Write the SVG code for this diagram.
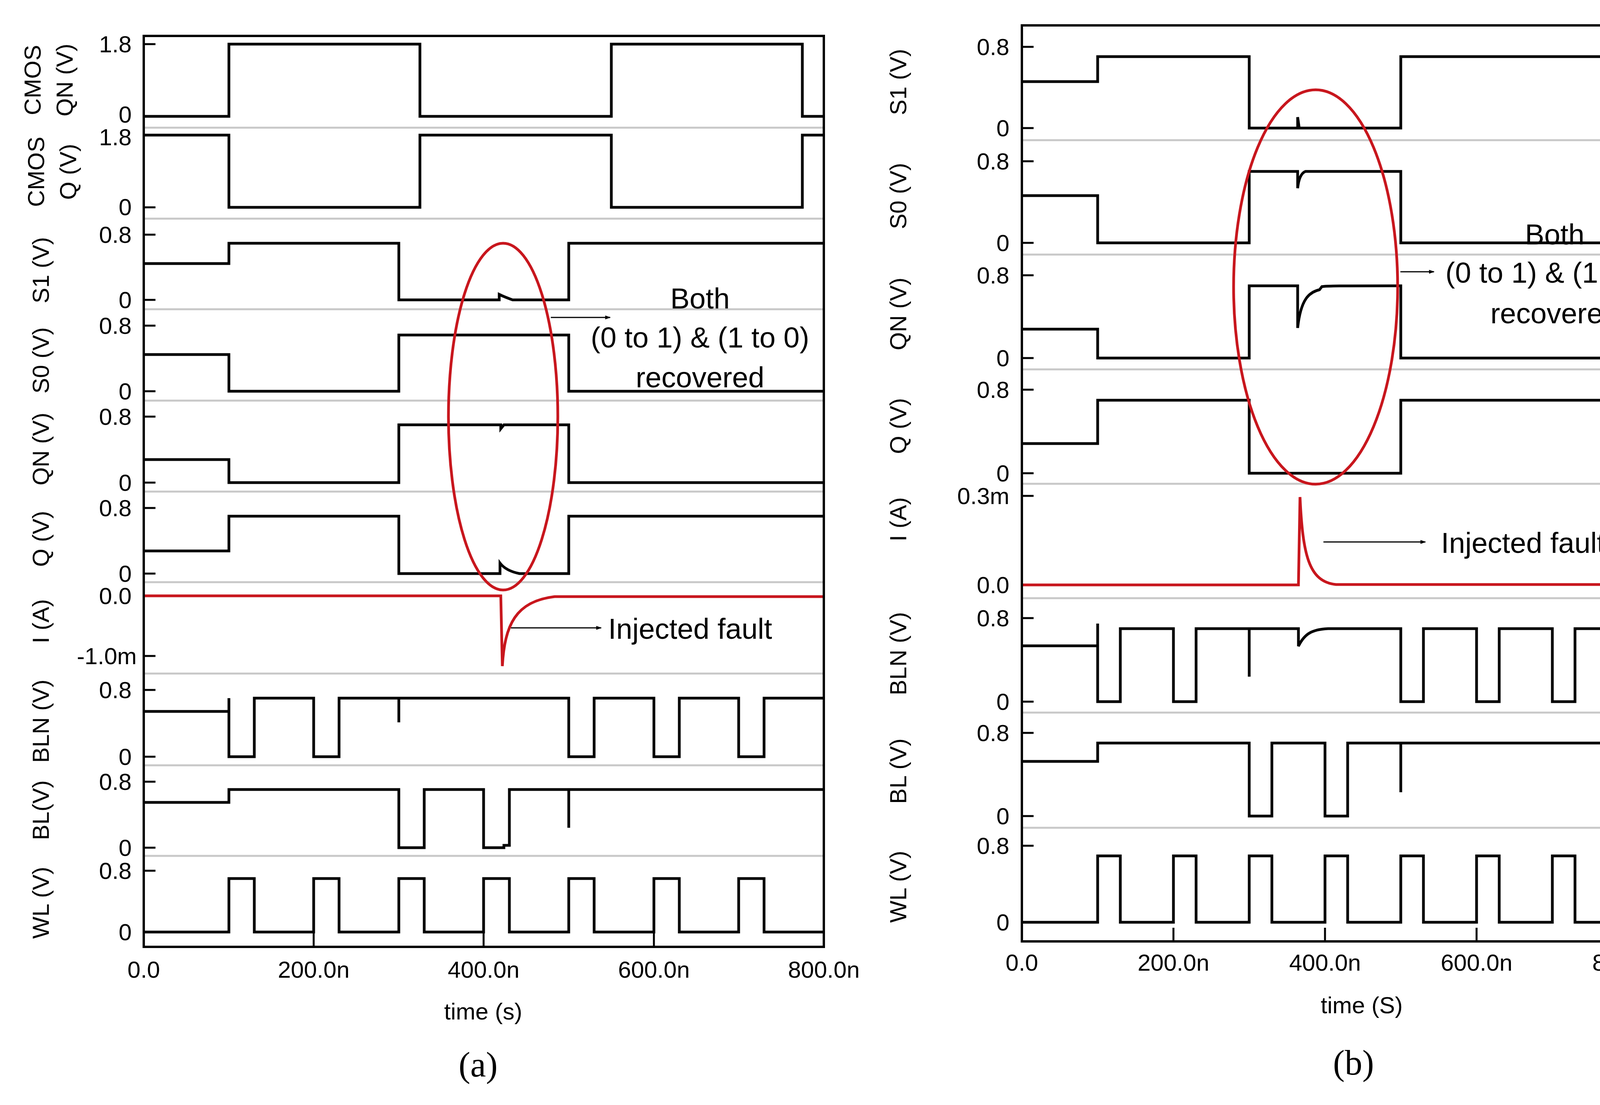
<svg xmlns="http://www.w3.org/2000/svg" width="4428" height="2830" viewBox="0 0 4428 2830">
<style>
text{font-family:"Liberation Sans",Arial,sans-serif;fill:#000}
.tk{font-size:60px;text-anchor:end}
.xt{font-size:60px;text-anchor:middle}
.ti{font-size:60px;text-anchor:middle}
.an{font-size:74px;text-anchor:middle}
.cap{font-family:"Liberation Serif",serif;font-size:90px;text-anchor:middle}
.sig{fill:none;stroke:#000;stroke-width:7;stroke-linejoin:miter}
.red{fill:none;stroke:#c8161d;stroke-width:7}
.frm{fill:none;stroke:#000;stroke-width:6}
.sep{stroke:#c8c8c8;stroke-width:5}
.tck{stroke:#000;stroke-width:5}
.ell{fill:none;stroke:#c8161d;stroke-width:7}
.arr{stroke:#000;stroke-width:3;marker-end:url(#ah)}
</style>
<defs>
<marker id="ah" viewBox="0 0 10 10" refX="9" refY="5" markerWidth="14" markerHeight="10" markerUnits="userSpaceOnUse" orient="auto" preserveAspectRatio="none"><path d="M0,0 L10,5 L0,10 z" fill="#000"/></marker>
</defs>
<rect width="4428" height="2830" fill="#fff"/>

<g id="panel-a">
<g id="a-grid">
<line class="sep" x1="368" y1="327" x2="2109" y2="327"/>
<line class="sep" x1="368" y1="560" x2="2109" y2="560"/>
<line class="sep" x1="368" y1="792" x2="2109" y2="792"/>
<line class="sep" x1="368" y1="1026" x2="2109" y2="1026"/>
<line class="sep" x1="368" y1="1259" x2="2109" y2="1259"/>
<line class="sep" x1="368" y1="1491" x2="2109" y2="1491"/>
<line class="sep" x1="368" y1="1725" x2="2109" y2="1725"/>
<line class="sep" x1="368" y1="1960" x2="2109" y2="1960"/>
<line class="sep" x1="368" y1="2192" x2="2109" y2="2192"/>
</g>
<g id="a-ticks">
<path class="tck" d="M368 113h30M368 298h30M368 346h30M368 531h30M368 601h30M368 768h30M368 834h30M368 1002h30M368 1067h30M368 1236h30M368 1301h30M368 1469h30M368 1526h30M368 1680h30M368 1767h30M368 1938h30M368 2002h30M368 2171h30M368 2230h30M368 2387h30M803 2425v-35M1238 2425v-35M1674 2425v-35"/>
</g>
<g id="a-signals">
<path class="sig" d="M368 298H586V113H1075V298H1565V113H2054V298H2109"/>
<path class="sig" d="M368 346H586V531H1075V346H1565V531H2054V346H2109"/>
<path class="sig" d="M368 675H586V623H1021V768H1278V754Q1290 760 1312 768H1456V623H2109"/>
<path class="sig" d="M368 908H586V1002H1021V858H1456V1002H2109"/>
<path class="sig" d="M368 1177H586V1236H1021V1088H1282V1098L1290 1088H1456V1236H2109"/>
<path class="sig" d="M368 1411H586V1322H1021V1469H1280V1442Q1295 1462 1330 1469H1456V1322H2109"/>
<path class="red" d="M368 1526H1282L1286 1706C1292 1600 1320 1540 1420 1528H2109"/>
<path class="sig" d="M368 1822H586V1788V1938H651V1788H803V1938H868V1788H1021V1850V1788H1456V1938H1521V1788H1674V1938H1739V1788H1891V1938H1956V1788H2109"/>
<path class="sig" d="M368 2055H586V2022H1021V2171H1086V2022H1238V2171H1290V2165H1304V2022H1456V2120V2022H2109"/>
<path class="sig" d="M368 2387H586V2250H651V2387H803V2250H868V2387H1021V2250H1086V2387H1238V2250H1304V2387H1456V2250H1521V2387H1674V2250H1739V2387H1891V2250H1956V2387H2109"/>
</g>
<rect class="frm" x="368" y="92" width="1741" height="2333"/>
<g id="a-labels">
<text class="tk" x="337" y="134">1.8</text><text class="tk" x="337" y="314">0</text>
<text class="tk" x="337" y="372">1.8</text><text class="tk" x="337" y="551">0</text>
<text class="tk" x="337" y="622">0.8</text><text class="tk" x="337" y="789">0</text>
<text class="tk" x="337" y="855">0.8</text><text class="tk" x="337" y="1023">0</text>
<text class="tk" x="337" y="1088">0.8</text><text class="tk" x="337" y="1257">0</text>
<text class="tk" x="337" y="1322">0.8</text><text class="tk" x="337" y="1490">0</text>
<text class="tk" x="337" y="1547">0.0</text><text class="tk" x="350" y="1701">-1.0m</text>
<text class="tk" x="337" y="1788">0.8</text><text class="tk" x="337" y="1959">0</text>
<text class="tk" x="337" y="2023">0.8</text><text class="tk" x="337" y="2192">0</text>
<text class="tk" x="337" y="2251">0.8</text><text class="tk" x="337" y="2408">0</text>
<text class="xt" x="368" y="2504">0.0</text><text class="xt" x="803" y="2504">200.0n</text><text class="xt" x="1238" y="2504">400.0n</text><text class="xt" x="1674" y="2504">600.0n</text><text class="xt" x="2109" y="2504">800.0n</text>
<text class="xt" x="1237" y="2611">time (s)</text>
<text class="cap" x="1224" y="2757">(a)</text>
<text class="ti" transform="translate(104 205) rotate(-90)">CMOS</text>
<text class="ti" transform="translate(186 205) rotate(-90)">QN (V)</text>
<text class="ti" transform="translate(113 440) rotate(-90)">CMOS</text>
<text class="ti" transform="translate(195 440) rotate(-90)">Q (V)</text>
<text class="ti" transform="translate(125 692) rotate(-90)">S1 (V)</text>
<text class="ti" transform="translate(125 923) rotate(-90)">S0 (V)</text>
<text class="ti" transform="translate(125 1150) rotate(-90)">QN (V)</text>
<text class="ti" transform="translate(125 1380) rotate(-90)">Q (V)</text>
<text class="ti" transform="translate(125 1591) rotate(-90)">I (A)</text>
<text class="ti" transform="translate(125 1847) rotate(-90)">BLN (V)</text>
<text class="ti" transform="translate(125 2075) rotate(-90)">BL(V)</text>
<text class="ti" transform="translate(125 2312) rotate(-90)">WL (V)</text>
</g>
<g id="a-annotations">
<ellipse class="ell" cx="1288" cy="1067" rx="140" ry="444"/>
<line class="arr" x1="1410" y1="813" x2="1562" y2="813"/>
<text class="an" x="1792" y="790">Both</text>
<text class="an" x="1792" y="890">(0 to 1) &amp; (1 to 0)</text>
<text class="an" x="1792" y="992">recovered</text>
<line class="arr" x1="1308" y1="1608" x2="1539" y2="1608"/>
<text class="an" x="1557" y="1636" style="text-anchor:start">Injected fault</text>
</g>
</g>

<g id="panel-b">
<g id="b-grid">
<line class="sep" x1="2616" y1="359" x2="4358" y2="359"/>
<line class="sep" x1="2616" y1="652" x2="4358" y2="652"/>
<line class="sep" x1="2616" y1="946" x2="4358" y2="946"/>
<line class="sep" x1="2616" y1="1239" x2="4358" y2="1239"/>
<line class="sep" x1="2616" y1="1532" x2="4358" y2="1532"/>
<line class="sep" x1="2616" y1="1825" x2="4358" y2="1825"/>
<line class="sep" x1="2616" y1="2120" x2="4358" y2="2120"/>
</g>
<g id="b-ticks">
<path class="tck" d="M2616 120h30M2616 328h30M2616 413h30M2616 622h30M2616 705h30M2616 917h30M2616 998h30M2616 1212h30M2616 1270h30M2616 1498h30M2616 1583h30M2616 1797h30M2616 1877h30M2616 2090h30M2616 2166h30M2616 2362h30M3004 2411v-35M3392 2411v-35M3780 2411v-35M4168 2411v-35"/>
</g>
<g id="b-signals">
<path class="sig" d="M2616 209H2810V145H3198V328H3322V300L3326 328H3586V145H4168V328H4358"/>
<path class="sig" d="M2616 501H2810V622H3198V439H3322V482Q3326 445 3342 439H3586V622H4168V439H4358"/>
<path class="sig" d="M2616 843H2810V917H3198V732H3322V840C3330 765 3352 748 3378 742L3384 734C3400 732 3420 732 3586 732V917H4168V732H4358"/>
<path class="sig" d="M2616 1136H2810V1025H3198V1212H3586V1025H4168V1212H4358"/>
<path class="red" d="M2616 1498H3324L3328 1273C3335 1420 3350 1490 3420 1497H4358"/>
<path class="sig" d="M2616 1654H2810V1597V1797H2868V1610H3004V1797H3062V1610H3198V1733V1610H3324V1655C3340 1622 3360 1612 3400 1610H3586V1797H3644V1610H3780V1797H3838V1610H3974V1797H4032V1610H4168V1733V1610H4358"/>
<path class="sig" d="M2616 1950H2810V1903H3198V2090H3256V1903H3392V2090H3450V1903H3586V2029V1903H4168V2090H4226V1903H4358"/>
<path class="sig" d="M2616 2362H2810V2192H2868V2362H3004V2192H3062V2362H3198V2192H3256V2362H3392V2192H3450V2362H3586V2192H3644V2362H3780V2192H3838V2362H3974V2192H4032V2362H4168V2192H4226V2362H4358"/>
</g>
<rect class="frm" x="2616" y="65" width="1742" height="2346"/>
<g id="b-labels">
<text class="tk" x="2584" y="141">0.8</text><text class="tk" x="2584" y="349">0</text>
<text class="tk" x="2584" y="434">0.8</text><text class="tk" x="2584" y="643">0</text>
<text class="tk" x="2584" y="726">0.8</text><text class="tk" x="2584" y="938">0</text>
<text class="tk" x="2584" y="1019">0.8</text><text class="tk" x="2584" y="1233">0</text>
<text class="tk" x="2584" y="1291">0.3m</text><text class="tk" x="2584" y="1519">0.0</text>
<text class="tk" x="2584" y="1604">0.8</text><text class="tk" x="2584" y="1818">0</text>
<text class="tk" x="2584" y="1898">0.8</text><text class="tk" x="2584" y="2111">0</text>
<text class="tk" x="2584" y="2187">0.8</text><text class="tk" x="2584" y="2383">0</text>
<text class="xt" x="2616" y="2486">0.0</text><text class="xt" x="3004" y="2486">200.0n</text><text class="xt" x="3392" y="2486">400.0n</text><text class="xt" x="3780" y="2486">600.0n</text><text class="xt" x="4168" y="2486">800.0n</text>
<text class="xt" x="3486" y="2595">time (S)</text>
<text class="cap" x="3465" y="2752">(b)</text>
<text class="ti" transform="translate(2320 210) rotate(-90)">S1 (V)</text>
<text class="ti" transform="translate(2320 502) rotate(-90)">S0 (V)</text>
<text class="ti" transform="translate(2320 804) rotate(-90)">QN (V)</text>
<text class="ti" transform="translate(2320 1091) rotate(-90)">Q (V)</text>
<text class="ti" transform="translate(2320 1330) rotate(-90)">I (A)</text>
<text class="ti" transform="translate(2320 1674) rotate(-90)">BLN (V)</text>
<text class="ti" transform="translate(2320 1975) rotate(-90)">BL (V)</text>
<text class="ti" transform="translate(2320 2271) rotate(-90)">WL (V)</text>
</g>
<g id="b-annotations">
<ellipse class="ell" cx="3368" cy="735" rx="210" ry="505"/>
<line class="arr" x1="3585" y1="696" x2="3671" y2="696"/>
<text class="an" x="3980" y="626">Both</text>
<text class="an" x="3980" y="724">(0 to 1) &amp; (1 to 0)</text>
<text class="an" x="3980" y="828">recovered</text>
<line class="arr" x1="3388" y1="1388" x2="3649" y2="1388"/>
<text class="an" x="3689" y="1416" style="text-anchor:start">Injected fault</text>
</g>
</g>
</svg>
